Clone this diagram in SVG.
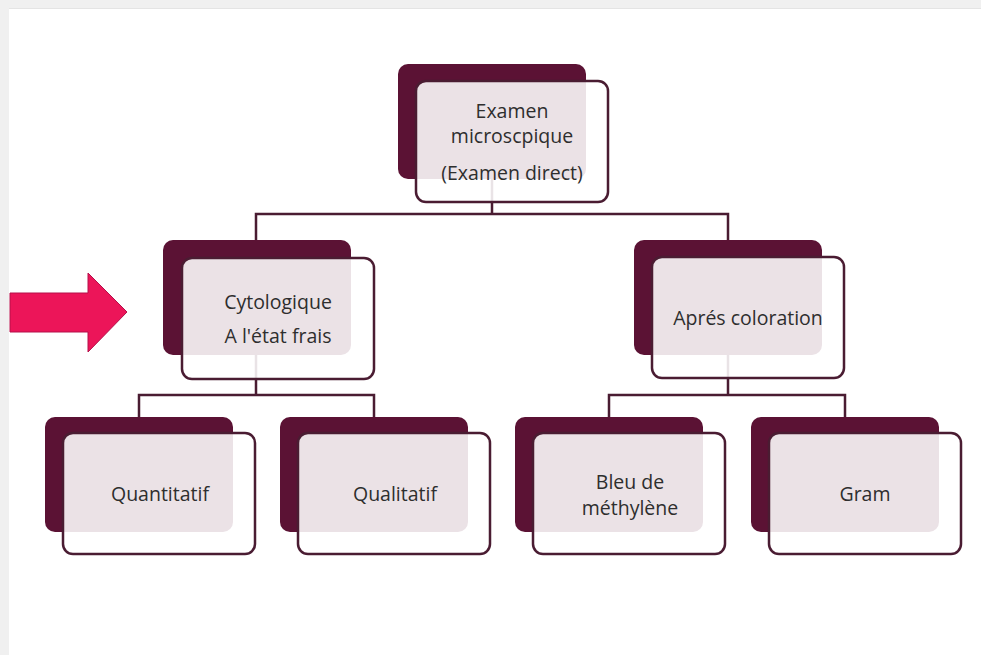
<svg xmlns="http://www.w3.org/2000/svg" width="981" height="655" viewBox="0 0 981 655">
<style>
.back{fill:#5b1234}
.front{fill:#ffffff;fill-opacity:0.88;stroke:#4a1c32;stroke-width:2.5}
.conn{fill:none;stroke:#4a1c32;stroke-width:2.5}
text{font-family:"Open Sans","Liberation Sans",sans-serif;font-size:19.5px;fill:#2e2e2e;text-anchor:middle}
</style>
<rect x="0" y="0" width="981" height="655" fill="#ffffff"/>
<rect x="0" y="0" width="981" height="8" fill="#f0f0f0"/>
<line x1="9" y1="8.5" x2="981" y2="8.5" stroke="#e4e4e4" stroke-width="1"/>
<rect x="0" y="0" width="9" height="655" fill="#f0f0f0"/>
<g id="arrow">
<polygon points="10,293 88,293 88,273 127,312 88,352 88,332 10,332" fill="#ec1559" stroke="#b5104a" stroke-width="1"/>
</g>
<g id="connectors">
<path class="conn" d="M492,150 V214 M256,240 V214 H728 V240"/>
<path class="conn" d="M256,330 V395 M139,417 V395 H374 V417"/>
<path class="conn" d="M728,330 V395 M609,417 V395 H845 V417"/>
</g>
<g id="n-top">
<rect class="back" x="398" y="64" width="188" height="115" rx="10"/>
<rect class="front" x="416" y="81" width="192" height="121" rx="10"/>
<text x="512" y="118">Examen</text>
<text x="512" y="143">microscpique</text>
<text x="512" y="180">(Examen direct)</text>
</g>
<g id="n-cyto">
<rect class="back" x="163" y="240" width="188" height="115" rx="10"/>
<rect class="front" x="182" y="258" width="192" height="121" rx="10"/>
<text x="278" y="309">Cytologique</text>
<text x="278" y="343">A l'état frais</text>
</g>
<g id="n-apres">
<rect class="back" x="634" y="240" width="188" height="115" rx="10"/>
<rect class="front" x="652" y="257" width="192" height="121" rx="10"/>
<text x="748" y="325">Aprés coloration</text>
</g>
<g id="n-quant">
<rect class="back" x="45" y="417" width="188" height="115" rx="10"/>
<rect class="front" x="63" y="433" width="192" height="121" rx="10"/>
<text x="160" y="501">Quantitatif</text>
</g>
<g id="n-qual">
<rect class="back" x="280" y="417" width="188" height="115" rx="10"/>
<rect class="front" x="298" y="433" width="192" height="121" rx="10"/>
<text x="395" y="501">Qualitatif</text>
</g>
<g id="n-bleu">
<rect class="back" x="515" y="417" width="188" height="115" rx="10"/>
<rect class="front" x="533" y="433" width="192" height="121" rx="10"/>
<text x="630" y="489">Bleu de</text>
<text x="630" y="515">méthylène</text>
</g>
<g id="n-gram">
<rect class="back" x="751" y="417" width="188" height="115" rx="10"/>
<rect class="front" x="769" y="433" width="192" height="121" rx="10"/>
<text x="865" y="501">Gram</text>
</g>
</svg>
